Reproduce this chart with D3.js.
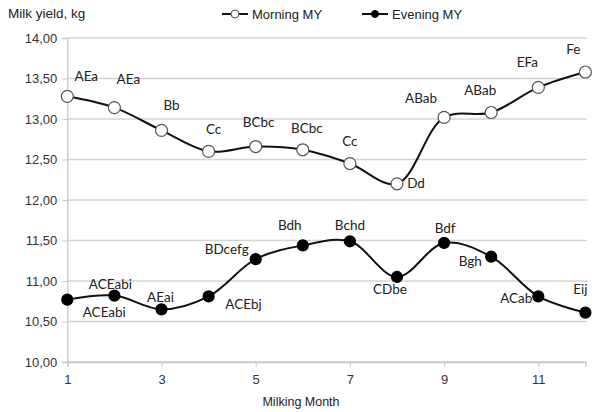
<!DOCTYPE html>
<html>
<head>
<meta charset="utf-8">
<script src="https://cdn.jsdelivr.net/npm/d3@7"></script>
<style>
  body { margin: 0; background: #fff; }
  text { font-family: "Liberation Sans", Arial, sans-serif; }
  .lbl { font-family: Lato, "Open Sans", sans-serif; font-size: 13.5px; fill: #222; }
</style>
</head>
<body>
<div id="chart"></div>
<script>
const months = [1, 2, 3, 4, 5, 6, 7, 8, 9, 10, 11, 12]
const morning = [13.28, 13.14, 12.86, 12.60, 12.66, 12.62, 12.45, 12.20, 13.02, 13.08, 13.39, 13.58]
const evening = [10.77, 10.82, 10.65, 10.81, 11.27, 11.44, 11.49, 11.05, 11.47, 11.30, 10.81, 10.61]
const morningLabels = ["AEa", "AEa", "Bb", "Cc", "BCbc", "BCbc", "Cc", "Dd", "ABab", "ABab", "EFa", "Fe"]
const eveningLabels = ["ACEabi", "ACEabi", "AEai", "ACEbj", "BDcefg", "Bdh", "Bchd", "CDbe", "Bdf", "Bgh", "ACab", "Eij"]
const yTicks = [10, 10.5, 11, 11.5, 12, 12.5, 13, 13.5, 14]
const xTicks = [1, 3, 5, 7, 9, 11]

// label placement relative to marker (dx, dy of text centre)
const morningPos = [[19,-20],[14,-28],[10,-25],[5,-22],[3,-24],[4,-22],[0,-22],[19,-1],[-23,-19],[-11,-22],[-11,-25],[-12,-23]]
const eveningPos = [[37,13],[-4,-11],[-1,-12],[35,8],[-29,-10],[-13,-20],[0,-16],[-7,12],[1,-15],[-21,5],[-22,2],[-5,-23]]

const width = 597, height = 412

const svg = d3.select("#chart").append("svg")
    .attr("width", width)
    .attr("height", height)

const x = d3.scaleLinear().domain([1, 12]).range([67.3, 585.4])
const y = d3.scaleLinear().domain([10, 14]).range([362, 38])

// gridlines
svg.append("g")
    .selectAll("line")
    .data(yTicks)
    .enter()
    .append("line")
    .attr("x1", x(1))
    .attr("x2", 587)
    .attr("y1", d => y(d))
    .attr("y2", d => y(d))
    .attr("stroke", "#d4d4d4")
    .attr("stroke-width", 1.3)

// y axis
const yAxis = svg.append("g")
    .attr("transform", `translate(${x(1)},0)`)
    .call(d3.axisLeft(y).tickValues(yTicks).tickSize(5).tickPadding(5)
        .tickFormat(d => d3.format(".2f")(d).replace(".", ",")))
yAxis.select(".domain").attr("stroke", "#c8c8c8").attr("stroke-width", 1.3)
yAxis.selectAll(".tick line").attr("stroke", "#c8c8c8")
yAxis.selectAll(".tick text").attr("font-size", 13).attr("fill", "#333")
    .style("font-family", "'Liberation Sans', Arial, sans-serif")

// x axis
const xAxis = svg.append("g")
    .attr("transform", `translate(0,${y(10)})`)
    .call(d3.axisBottom(x).tickValues(xTicks).tickSize(5).tickPadding(8).tickFormat(d3.format("d")))
xAxis.select(".domain").attr("stroke", "#c8c8c8").attr("stroke-width", 1.3)
xAxis.selectAll(".tick line").attr("stroke", "#c8c8c8")
xAxis.selectAll(".tick text").attr("font-size", 13).attr("fill", "#333")
    .style("font-family", "'Liberation Sans', Arial, sans-serif")

// titles
svg.append("text")
    .attr("x", 8)
    .attr("y", 18)
    .attr("font-size", 13.5)
    .attr("fill", "#222")
    .text("Milk yield, kg")

svg.append("text")
    .attr("x", 301)
    .attr("y", 406)
    .attr("text-anchor", "middle")
    .attr("font-size", 12.5)
    .attr("fill", "#222")
    .text("Milking Month")

const line = d3.line()
    .x((d, i) => x(months[i]))
    .y(d => y(d))
    .curve(d3.curveCatmullRom.alpha(0.5))

function series(values, labels, pos, filled) {
    const g = svg.append("g")
    g.append("path")
        .datum(values)
        .attr("d", line)
        .attr("fill", "none")
        .attr("stroke", "#111")
        .attr("stroke-width", 2)

    g.selectAll("circle")
        .data(values)
        .enter()
        .append("circle")
        .attr("cx", (d, i) => x(months[i]))
        .attr("cy", d => y(d))
        .attr("r", filled ? 5.5 : 6)
        .attr("fill", filled ? "#000" : "#fff")
        .attr("stroke", filled ? "#000" : "#555")
        .attr("stroke-width", 1.2)

    g.selectAll("text")
        .data(values)
        .enter()
        .append("text")
        .attr("class", "lbl")
        .attr("x", (d, i) => x(months[i]) + pos[i][0])
        .attr("y", (d, i) => y(d) + pos[i][1])
        .attr("dy", "0.35em")
        .attr("text-anchor", "middle")
        .text((d, i) => labels[i])
}

series(morning, morningLabels, morningPos, false)
series(evening, eveningLabels, eveningPos, true)

// legend
const legend = [
    {name: "Morning MY", x: 222, filled: false},
    {name: "Evening MY", x: 362, filled: true}
]
const lg = svg.append("g")
    .selectAll("g")
    .data(legend)
    .enter()
    .append("g")
    .attr("transform", d => `translate(${d.x},14)`)
lg.append("line")
    .attr("x1", 0).attr("x2", 26)
    .attr("stroke", "#111").attr("stroke-width", 2)
lg.append("circle")
    .attr("cx", 13)
    .attr("r", d => d.filled ? 3.5 : 4)
    .attr("fill", d => d.filled ? "#000" : "#fff")
    .attr("stroke", d => d.filled ? "#000" : "#555")
lg.append("text")
    .attr("x", 30)
    .attr("dy", "0.35em")
    .attr("font-size", 13)
    .attr("fill", "#222")
    .text(d => d.name)
</script>
</body>
</html>
